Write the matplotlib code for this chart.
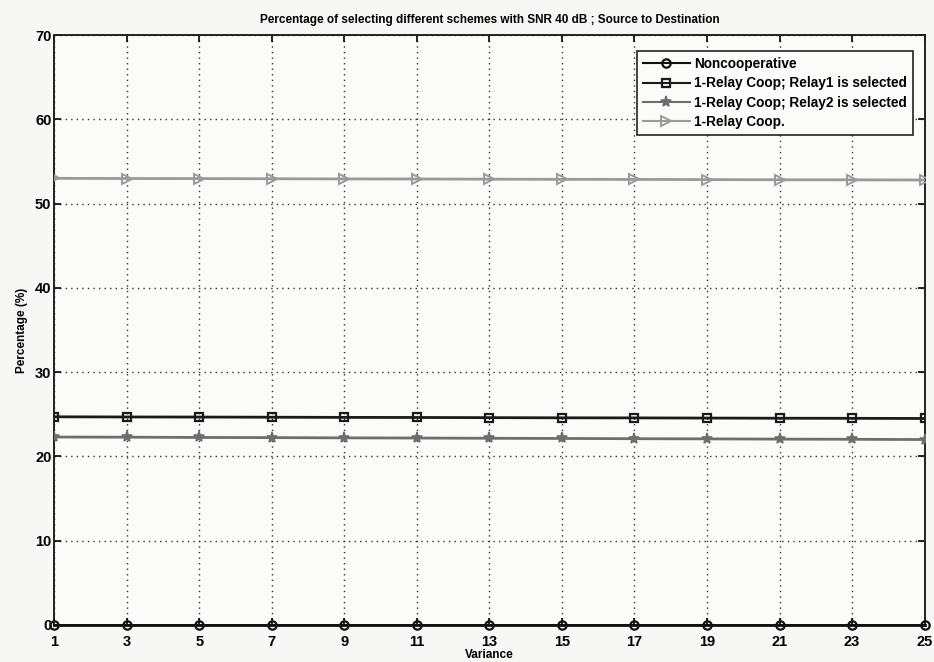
import numpy as np
import matplotlib
matplotlib.use("Agg")
import matplotlib.pyplot as plt

plt.rcParams["font.family"] = ["Liberation Sans", "DejaVu Sans"]
plt.rcParams["font.weight"] = "bold"

# variance values on the x axis
variance = [1, 3, 5, 7, 9, 11, 13, 15, 17, 19, 21, 23, 25]

# percentage of each selected scheme
noncoop = [0.0, 0.0, 0.0, 0.0, 0.0, 0.0, 0.0, 0.0, 0.0, 0.0, 0.0, 0.0, 0.0]
relay1_sel = [24.70, 24.68, 24.67, 24.65, 24.63, 24.62, 24.60,
              24.58, 24.57, 24.55, 24.53, 24.52, 24.50]
relay2_sel = [22.30, 22.28, 22.25, 22.23, 22.20, 22.18, 22.15,
              22.13, 22.10, 22.08, 22.05, 22.03, 22.00]
relay_coop = [53.00, 52.98, 52.97, 52.95, 52.93, 52.92, 52.90,
              52.88, 52.87, 52.85, 52.83, 52.82, 52.80]

labels = ["Noncooperative",
          "1-Relay Coop; Relay1 is selected",
          "1-Relay Coop; Relay2 is selected",
          "1-Relay Coop."]

fig = plt.figure(figsize=(9.34, 6.62), dpi=100, facecolor="#f7f7f5")
ax = fig.add_axes([0.058, 0.056, 0.932, 0.891])
ax.set_facecolor("#fbfbfa")

ax.plot(variance, relay1_sel, color="#1a1a1a", lw=2.0, marker="s", ms=6,
        mfc="none", mew=1.6, label=labels[1], zorder=3)
ax.plot(variance, relay2_sel, color="#6e6e6e", lw=2.0, marker="*", ms=8,
        mew=1.2, label=labels[2], zorder=3)
ax.plot(variance, relay_coop, color="#9a9a9a", lw=2.0, marker=">", ms=7,
        mfc="none", mew=1.4, label=labels[3], zorder=3)
ax.plot(variance, noncoop, color="#111111", lw=2.0, marker="o", ms=6,
        mfc="none", mew=1.6, label=labels[0], zorder=4, clip_on=False)

ax.set_xlim(1, 25)
ax.set_ylim(0, 70)
ax.set_xticks(variance)
ax.set_yticks(np.arange(0, 71, 10))
ax.tick_params(direction="in", length=5, width=1.2, top=True, right=True,
               labelsize=10.5)
ax.tick_params(axis="x", pad=7)
ax.tick_params(axis="y", pad=2)
for lab in ax.get_xticklabels() + ax.get_yticklabels():
    lab.set_fontweight("bold")

ax.grid(True, linestyle=(0, (1, 3)), color="#333333", linewidth=1.0)
for sp in ax.spines.values():
    sp.set_linewidth(1.4)
    sp.set_color("#222222")

ax.set_title("Percentage of selecting different schemes with SNR 40 dB ; Source to Destination",
             fontsize=8.5, fontweight="bold", pad=9)
ax.set_xlabel("Variance", fontsize=8.5, fontweight="bold", labelpad=0)
ax.set_ylabel("Percentage (%)", fontsize=8.5, fontweight="bold", labelpad=5)

handles, labs = ax.get_legend_handles_labels()
order = [labs.index(l) for l in labels]
leg = ax.legend([handles[i] for i in order], [labs[i] for i in order],
                loc="upper right", bbox_to_anchor=(0.994, 0.985),
                handlelength=3.4, handletextpad=0.3,
                borderpad=0.45, labelspacing=0.4, fancybox=False,
                framealpha=1, edgecolor="#222222",
                prop={"weight": "bold", "size": 9.8})
leg.get_frame().set_linewidth(1.2)
leg.get_frame().set_facecolor("#fbfbfa")
for h in leg.legend_handles:
    h.set_linewidth(1.5)

fig.savefig("out.png", dpi=100, facecolor=fig.get_facecolor())
